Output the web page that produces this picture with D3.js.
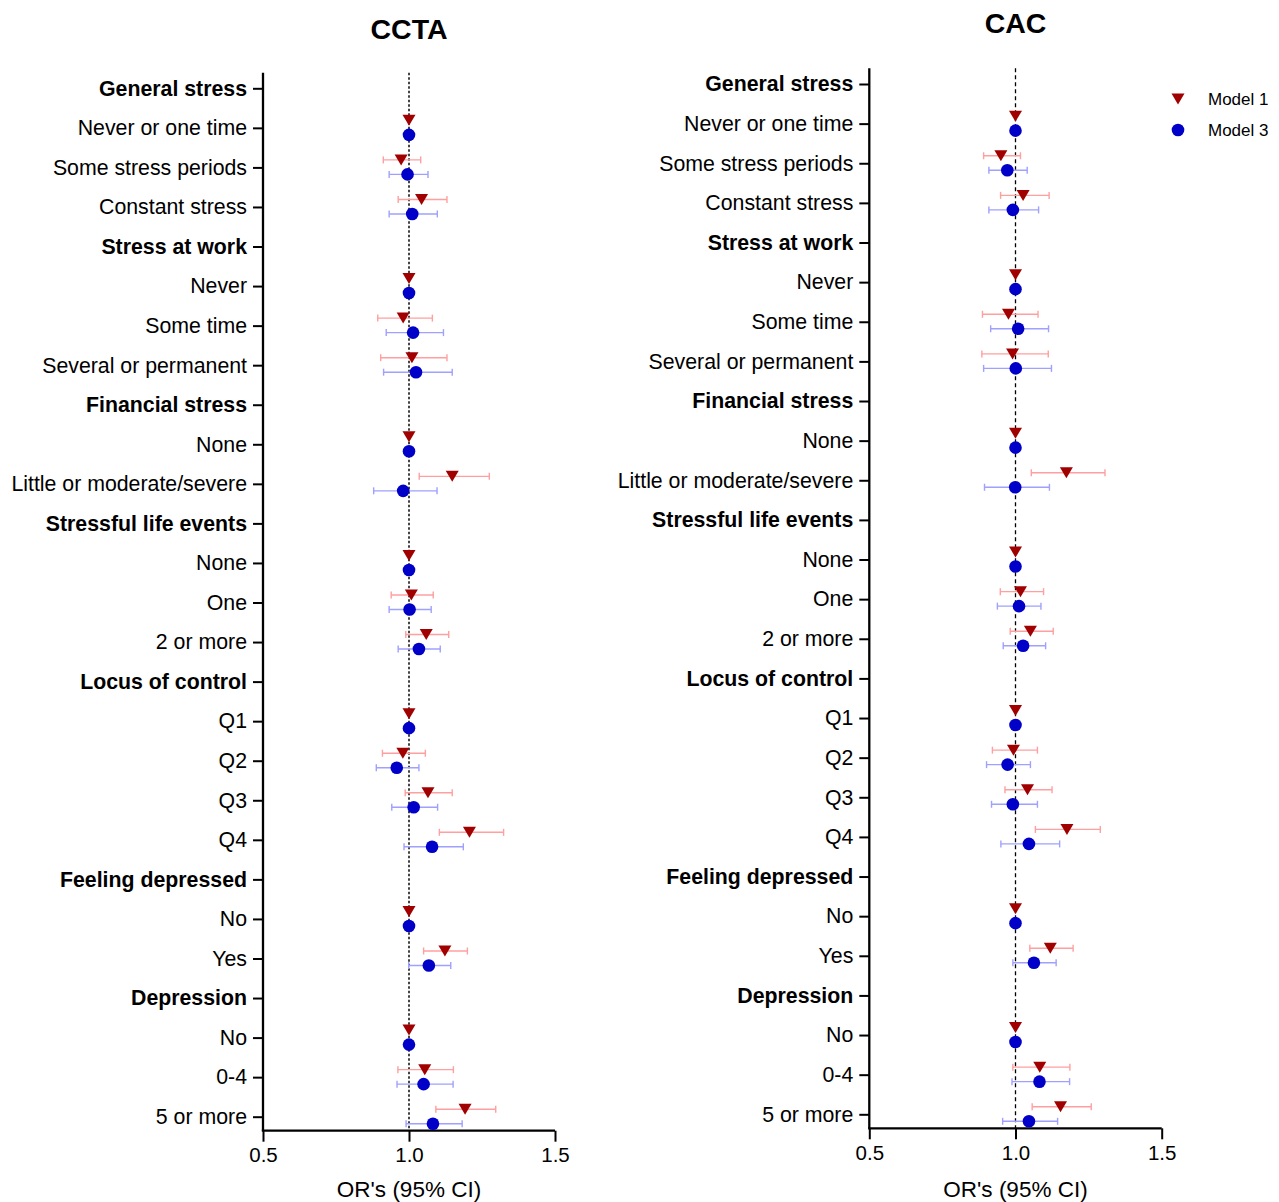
<!DOCTYPE html>
<html>
<head>
<meta charset="utf-8">
<script src="https://cdn.jsdelivr.net/npm/d3@7"></script>
<style>
  html, body { margin: 0; padding: 0; background: #fff; }
  svg { display: block; font-family: "Liberation Sans", Arial, sans-serif; }
</style>
</head>
<body>
<svg id="chart" width="1279" height="1202"></svg>
<script>
// ---------------- DATA ----------------
const categories = [
  "General stress", "Never or one time", "Some stress periods", "Constant stress",
  "Stress at work", "Never", "Some time", "Several or permanent",
  "Financial stress", "None", "Little or moderate/severe",
  "Stressful life events", "None", "One", "2 or more",
  "Locus of control", "Q1", "Q2", "Q3", "Q4",
  "Feeling depressed", "No", "Yes",
  "Depression", "No", "0-4", "5 or more"
];
const headerRows = [0, 4, 8, 11, 15, 20, 23];
const xTicks = [0.5, 1.0, 1.5];
const panelTitles = ["CCTA", "CAC"];
const seriesNames = ["Model 1", "Model 3"];
const xTitle = "OR's (95% CI)";

// CCTA
const cctaM1 = [null,1,0.973,1.043,null,1,0.980,1.010,null,1,1.148,null,1,1.008,1.059,null,1,0.979,1.065,1.207,null,1,1.123,null,1,1.054,1.192];
const cctaM1Lo = [null,null,0.912,0.963,null,null,0.893,0.903,null,null,1.035,null,null,0.939,0.989,null,null,0.909,0.987,1.104,null,null,1.050,null,null,0.962,1.092];
const cctaM1Hi = [null,null,1.040,1.130,null,null,1.080,1.130,null,null,1.275,null,null,1.083,1.136,null,null,1.056,1.148,1.324,null,null,1.200,null,null,1.152,1.297];
const cctaM3 = [null,1,0.995,1.011,null,1,1.014,1.024,null,1,0.980,null,1,1.002,1.034,null,1,0.958,1.016,1.079,null,1,1.068,null,1,1.050,1.082];
const cctaM3Lo = [null,null,0.932,0.932,null,null,0.922,0.913,null,null,0.879,null,null,0.932,0.963,null,null,0.888,0.941,0.983,null,null,0.999,null,null,0.959,0.990];
const cctaM3Hi = [null,null,1.065,1.097,null,null,1.118,1.148,null,null,1.096,null,null,1.076,1.107,null,null,1.034,1.098,1.186,null,null,1.143,null,null,1.151,1.182];

// CAC
const cacM1 = [null,1,0.950,1.026,null,1,0.976,0.990,null,1,1.174,null,1,1.017,1.051,null,1,0.993,1.041,1.176,null,1,1.119,null,1,1.083,1.154];
const cacM1Lo = [null,null,0.891,0.949,null,null,0.887,0.885,null,null,1.054,null,null,0.948,0.982,null,null,0.921,0.964,1.068,null,null,1.049,null,null,0.991,1.057];
const cacM1Hi = [null,null,1.017,1.115,null,null,1.077,1.112,null,null,1.306,null,null,1.096,1.129,null,null,1.075,1.125,1.290,null,null,1.197,null,null,1.186,1.259];
const cacM3 = [null,1,0.972,0.991,null,1,1.009,1.001,null,1,0.999,null,1,1.012,1.026,null,1,0.973,0.991,1.046,null,1,1.063,null,1,1.082,1.046];
const cacM3Lo = [null,null,0.909,0.909,null,null,0.915,0.891,null,null,0.894,null,null,0.938,0.958,null,null,0.901,0.918,0.950,null,null,0.991,null,null,0.988,0.956];
const cacM3Hi = [null,null,1.040,1.079,null,null,1.113,1.123,null,null,1.116,null,null,1.087,1.103,null,null,1.051,1.075,1.151,null,null,1.139,null,null,1.185,1.144];

// ---------------- LAYOUT ----------------
const svg = d3.select("#chart");
const colM1 = "#a00000", colM3 = "#0000c8";
const barM1 = "#ff9f9f", barM3 = "#a0a0ff";

const panels = [
  { title: panelTitles[0], titleY: 39, x0: 263, x1: 555, yTop: 72.7, yBot: 1130.7, r0: 88.3, r1: 1116.7,
    dash: "2.5,2", dashColor: "#444", dashW: 2,
    m1: [cctaM1, cctaM1Lo, cctaM1Hi], m3: [cctaM3, cctaM3Lo, cctaM3Hi] },
  { title: panelTitles[1], titleY: 33, x0: 869.3, x1: 1161.7, yTop: 68.3, yBot: 1128.3, r0: 84, r1: 1114.3,
    dash: "4,3", dashColor: "#000", dashW: 1.3,
    m1: [cacM1, cacM1Lo, cacM1Hi], m3: [cacM3, cacM3Lo, cacM3Hi] }
];

const triPath = "M-6.5,-5.5L6.5,-5.5L0,5.5Z";

panels.forEach(p => {
  const x = d3.scaleLinear().domain([0.5, 1.5]).range([p.x0, p.x1]);
  const y = d3.scalePoint().domain(d3.range(categories.length)).range([p.r0, p.r1]);
  const g = svg.append("g");

  // title
  g.append("text").attr("x", x(1.0)).attr("y", p.titleY).attr("text-anchor", "middle")
    .attr("font-size", 28.5).attr("font-weight", "bold").text(p.title);

  // reference line
  g.append("line").attr("x1", x(1)).attr("x2", x(1)).attr("y1", p.yTop).attr("y2", p.yBot)
    .attr("stroke", p.dashColor).attr("stroke-width", p.dashW).attr("stroke-dasharray", p.dash);

  // y axis
  const yAxis = d3.axisLeft(y).tickSize(10).tickPadding(6).tickFormat(i => categories[i]);
  const ya = g.append("g").attr("transform", `translate(${p.x0},0)`).call(yAxis);
  ya.select(".domain").attr("d", `M0,${p.yTop}V${p.yBot}`).attr("stroke-width", 2.3);
  ya.selectAll(".tick line").attr("stroke-width", 2);
  ya.selectAll(".tick text").attr("font-size", 21.3).attr("font-family", null).attr("fill", "#000")
    .attr("font-weight", i => headerRows.includes(i) ? "bold" : "normal");

  // x axis
  const xAxis = d3.axisBottom(x).tickValues(xTicks).tickSize(11).tickPadding(6).tickFormat(d3.format(".1f"));
  const xa = g.append("g").attr("transform", `translate(0,${p.yBot})`).call(xAxis);
  xa.select(".domain").attr("d", `M${p.x0 - 1.2},0H${p.x1}`).attr("stroke-width", 2.3);
  xa.selectAll(".tick line").attr("stroke-width", 2);
  xa.selectAll(".tick text").attr("font-size", 20.5).attr("font-family", null).attr("fill", "#000");

  g.append("text").attr("x", x(1.0)).attr("y", 1197).attr("text-anchor", "middle")
    .attr("font-size", 22.5).text(xTitle);

  // series
  const series = [
    { vals: p.m1, off: -7.5, col: colM1, bar: barM1, shape: "tri" },
    { vals: p.m3, off: 7, col: colM3, bar: barM3, shape: "circ" }
  ];
  series.forEach(s => {
    const rows = d3.range(categories.length).filter(i => s.vals[0][i] != null);
    const ci = rows.filter(i => s.vals[1][i] != null);
    const eb = g.append("g").attr("stroke", s.bar).attr("stroke-width", 1.4).attr("fill", "none");
    eb.selectAll("line.h").data(ci).join("line")
      .attr("x1", i => x(s.vals[1][i])).attr("x2", i => x(s.vals[2][i]))
      .attr("y1", i => y(i) + s.off).attr("y2", i => y(i) + s.off);
    eb.selectAll("line.l").data(ci).join("line").attr("class", "l")
      .attr("x1", i => x(s.vals[1][i])).attr("x2", i => x(s.vals[1][i]))
      .attr("y1", i => y(i) + s.off - 3.5).attr("y2", i => y(i) + s.off + 3.5);
    eb.selectAll("line.r").data(ci).join("line").attr("class", "r")
      .attr("x1", i => x(s.vals[2][i])).attr("x2", i => x(s.vals[2][i]))
      .attr("y1", i => y(i) + s.off - 3.5).attr("y2", i => y(i) + s.off + 3.5);
    if (s.shape === "tri") {
      g.append("g").selectAll("path").data(rows).join("path")
        .attr("d", triPath).attr("fill", s.col)
        .attr("transform", i => `translate(${x(s.vals[0][i])},${y(i) + s.off})`);
    } else {
      g.append("g").selectAll("circle").data(rows).join("circle")
        .attr("cx", i => x(s.vals[0][i])).attr("cy", i => y(i) + s.off).attr("r", 6.3).attr("fill", s.col);
    }
  });
});

// legend
const lg = svg.append("g");
lg.append("path").attr("d", triPath).attr("fill", colM1).attr("transform", "translate(1178,99)");
lg.append("circle").attr("cx", 1178).attr("cy", 130).attr("r", 6.3).attr("fill", colM3);
lg.append("text").attr("x", 1208).attr("y", 105).attr("font-size", 17).text(seriesNames[0]);
lg.append("text").attr("x", 1208).attr("y", 136).attr("font-size", 17).text(seriesNames[1]);
</script>
</body>
</html>
